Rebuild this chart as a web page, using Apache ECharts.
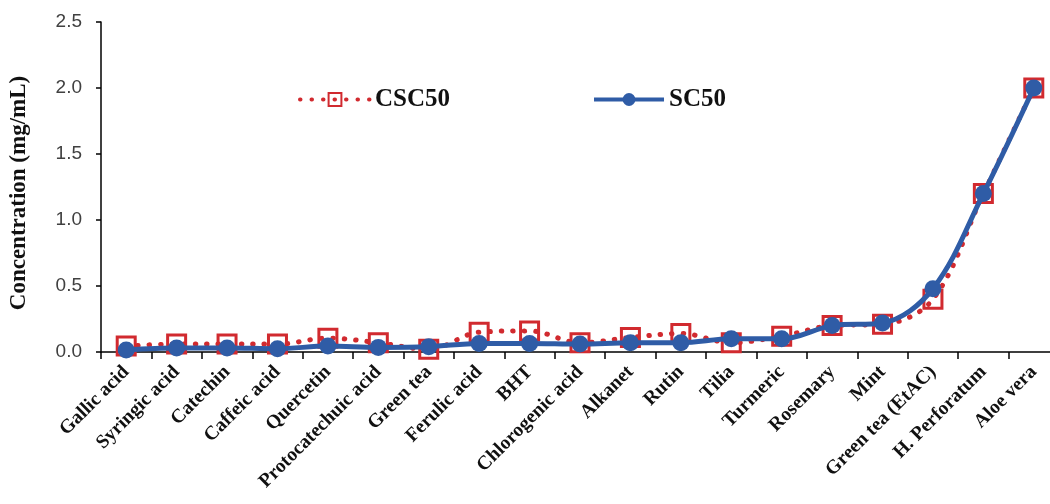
<!DOCTYPE html>
<html>
<head>
<meta charset="utf-8">
<script src="https://cdn.jsdelivr.net/npm/echarts@6/dist/echarts.min.js"></script>
<style>html,body{margin:0;padding:0;background:#fff;overflow:hidden}#c{width:1060px;height:504px}</style>
</head>
<body>
<div id="c"></div>
<script>
const categories = ["Gallic acid","Syringic acid","Catechin","Caffeic acid","Quercetin","Protocatechuic acid","Green tea","Ferulic acid","BHT","Chlorogenic acid","Alkanet","Rutin","Tilia","Turmeric","Rosemary","Mint","Green tea (EtAC)","H. Perforatum","Aloe vera"];
const csc50 = [0.045,0.06,0.06,0.06,0.105,0.07,0.02,0.15,0.16,0.07,0.11,0.14,0.07,0.12,0.20,0.21,0.40,1.20,2.00];
const sc50 = [0.015,0.03,0.03,0.025,0.045,0.035,0.04,0.065,0.065,0.06,0.07,0.07,0.10,0.10,0.20,0.22,0.48,1.20,2.00];
const yTicks = {min:0, max:2.5, interval:0.5};

const red = '#d12a2f', blue = '#2f5ca6';
const chart = echarts.init(document.getElementById('c'));
chart.setOption({
  animation:false,
  backgroundColor:'#fff',
  grid:{left:101, right:1, top:22, bottom:152, containLabel:false},
  legend:{
    left:293, top:82, itemWidth:70, itemHeight:16, itemGap:142,
    lineStyle:{width:4},
    textStyle:{fontFamily:'Liberation Serif', fontWeight:'bold', fontSize:25, color:'#111'},
    data:['CSC50','SC50']
  },
  xAxis:{
    type:'category', data:categories, boundaryGap:true,
    axisLine:{lineStyle:{color:'#000', width:1.5}},
    axisTick:{show:true, length:7, lineStyle:{color:'#000', width:1.5}},
    axisLabel:{rotate:45, interval:0, margin:17, color:'#111', fontFamily:'Liberation Serif', fontWeight:'bold', fontSize:19.5}
  },
  yAxis:{
    type:'value', min:yTicks.min, max:yTicks.max, interval:yTicks.interval,
    name:'Concentration (mg/mL)', nameLocation:'middle', nameGap:70,
    nameTextStyle:{fontFamily:'Liberation Serif', fontWeight:'bold', fontSize:23, color:'#111', padding:[0,12,0,0]},
    axisLine:{show:true, lineStyle:{color:'#000', width:1.5}},
    axisTick:{show:true, length:5, lineStyle:{color:'#000', width:1.5}},
    splitLine:{show:false},
    axisLabel:{formatter:v=>v.toFixed(1), margin:19, color:'#404040', fontFamily:'Liberation Sans', fontSize:19}
  },
  series:[
    {name:'CSC50', type:'line', data:csc50, smooth:0.35, symbol:'rect', symbolSize:18,
     itemStyle:{color:'rgba(255,255,255,0)', borderColor:red, borderWidth:3},
     lineStyle:{color:red, width:5, type:[0.5,11], cap:'round'}, z:2},
    {name:'SC50', type:'line', data:sc50, smooth:0.35, symbol:'circle', symbolSize:17,
     itemStyle:{color:blue}, lineStyle:{color:blue, width:5}, z:3}
  ]
});
</script>
</body>
</html>
